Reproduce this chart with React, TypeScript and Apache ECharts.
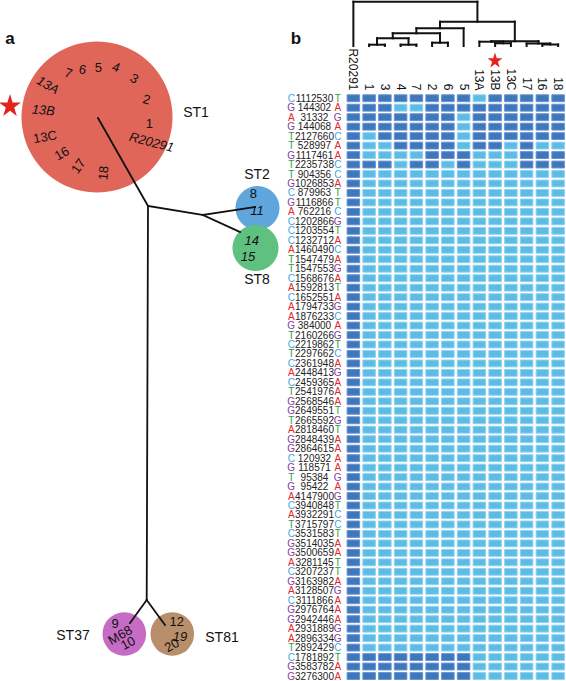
import React, { useEffect, useRef } from "react";
import * as echarts from "echarts";

const FONT = '"Liberation Sans", Arial, Helvetica, sans-serif';

// ---------- panel b data ----------
const columns = ["R20291", "1", "3", "4", "7", "2", "6", "5", "13A", "13B", "13C", "17", "16", "18"];

const snps = [
  "C1112530T", "G144302A", "A31332G", "G144068A", "T2127660C", "T528997A", "G1117461A", "T2235738C",
  "T904356C", "G1026853A", "C879963T", "G1116866T", "A762216C", "C1202866G", "C1203554T", "C1232712A",
  "A1460490C", "T1547479A", "T1547553G", "C1568676A", "A1592813T", "C1652551A", "A1794733G", "A1876233C",
  "G384000A", "T2160266G", "C2219862T", "T2297662C", "C2361948A", "A2448413G", "C2459365A", "T2541976A",
  "G2568546A", "G2649551T", "T2665592G", "A2818460T", "G2848439A", "G2864615A", "C120932A", "G118571A",
  "T95384G", "G95422A", "A4147900G", "C3940848T", "A3932291C", "T3715797C", "C3531583T", "G3514035A",
  "G3500659A", "A3281145T", "C3207237T", "G3163982A", "A3128507G", "C3111866A", "G2976764A", "G2942446A",
  "A2931889G", "A2896334G", "T2892429C", "C1781892T", "G3583782A", "G3276300A",
];

// 1 = reference allele (dark), 0 = variant (light); columns in order of `columns`
const genotypes = [
  "11111111011111",
  "11100111111111",
  "11111110111111",
  "11111110111111",
  "10111110111111",
  "10011110110100",
  "10000111000111",
  "11101101000111",
  ...Array(51).fill("10000000000000"),
  "11111111000000",
  "11111111000000",
  "11111111000000",
];

// dendrogram merges: [childA, childB, height]; leaves are column indices, merges get ids 14, 15, ...
const dendroMerges: [number, number, number][] = [
  [1, 2, 1.3],
  [3, 4, 1.3],
  [5, 6, 3.3],
  [14, 15, 7.7],
  [17, 16, 12.7],
  [18, 7, 17.7],
  [9, 10, 2.7],
  [12, 13, 1.5],
  [11, 21, 2.5],
  [8, 20, 4.3],
  [23, 22, 4.8],
  [19, 24, 24.3],
  [0, 25, 44.3],
];

// ---------- panel a data ----------
const stNames = ["ST1", "ST2", "ST8", "ST37", "ST81"];
const stColors = ["#e0665a", "#5ea6dc", "#5fc07f", "#c66cc5", "#b98f6b"];
const isolateNames = ["13A", "7", "6", "5", "4", "3", "2", "1", "R20291", "18", "17", "16", "13C", "13B",
  "8", "11", "14", "15", "9", "M68", "10", "12", "19", "20"];
const isolateItalic = [1, 0, 0, 0, 1, 0, 0, 0, 1, 0, 0, 0, 0, 1, 0, 1, 1, 1, 0, 0, 0, 0, 1, 0];

// layout (network diagram coordinates in a 566 x 681 layout space)
const stLayout = [[97, 117, 151], [257.5, 208, 44], [255.5, 248, 46], [124.3, 634, 43.5], [172.3, 634, 43.5]];
const stLabelLayout = [[196, 112], [257, 174], [257, 279], [73, 635], [222, 637]];
const treeEdges = [
  [98, 118, 148, 206], [148, 206, 146.7, 600], [148, 206, 203, 215], [203, 215, 255, 207],
  [203, 215, 240, 232], [146.7, 600, 130, 623], [146.7, 600, 165, 625],
];
const isolateLayout = [
  [48, 85, -30], [68.5, 73, -20], [82.7, 69.5, -10], [98.3, 67, 0], [116, 67, -12], [134.3, 78.5, -30],
  [146.7, 99.3, -15], [149.3, 123, 0], [151.7, 142, -15], [103.3, 173, 85], [78.3, 166, 55], [61.7, 153.3, 30],
  [45, 136.7, 10], [43.3, 110, -5],
  [253.3, 193.3, 0], [257, 210, 0], [251.7, 240, 0], [248, 256.7, 0],
  [115, 623, 0], [120, 635, 30], [128, 643, 28], [176.7, 621.7, 0], [180, 636.7, 0], [171.7, 645, 30],
];
const starLayout = [[10, 105, 22], [495, 60, 15]];

const STAR = "path://M50,0 L61.8,35.4 L100,35.4 L69.1,57.3 L80.9,92.7 L50,70.8 L19.1,92.7 L30.9,57.3 L0,35.4 L38.2,35.4 Z";
const baseColors: Record<string, string> = { A: "#e3262b", C: "#41a5de", G: "#8a3c9b", T: "#2e9d48" };

function buildDendro() {
  const pos: [number, number][] = columns.map((_, i) => [i, 0]);
  const segs: number[][] = [];
  dendroMerges.forEach(([a, b, h]) => {
    const pa = pos[a];
    const pb = pos[b];
    segs.push([pa[0], pa[1], pa[0], h]);
    segs.push([pb[0], pb[1], pb[0], h]);
    segs.push([pa[0], h, pb[0], h]);
    pos.push([(pa[0] + pb[0]) / 2, h]);
  });
  return segs;
}

export default function App() {
  const ref = useRef<HTMLDivElement>(null);
  useEffect(() => {
    document.body.style.margin = "0";
    const chart = echarts.init(ref.current!, null, { renderer: "svg" });
    const heat = genotypes.flatMap((g, r) => g.split("").map((v, c) => [c, r, Number(v)]));
    const segRender = (lw: number) => (_p: any, api: any) => {
      const p1 = api.coord([api.value(0), api.value(1)]);
      const p2 = api.coord([api.value(2), api.value(3)]);
      return {
        type: "line",
        shape: { x1: p1[0], y1: p1[1], x2: p2[0], y2: p2[1] },
        style: { stroke: "#111", lineWidth: lw, lineCap: "square" },
      };
    };
    const rich: any = { p: { color: "#222", width: 39, align: "center", fontSize: 10, lineHeight: 9, fontFamily: FONT } };
    Object.keys(baseColors).forEach((k) => {
      rich[k] = { color: baseColors[k], width: 7.5, align: "center", fontSize: 10, lineHeight: 9, fontFamily: FONT };
    });
    chart.setOption({
      animation: false,
      textStyle: { fontFamily: FONT },
      grid: [
        { left: 0, top: 0, width: 566, height: 681 },
        { left: 345.5, top: 93.5, width: 222, height: 588 },
        { left: 345.5, top: 0, width: 222, height: 46 },
      ],
      xAxis: [
        { type: "value", gridIndex: 0, min: 0, max: 566, show: false },
        {
          type: "category", gridIndex: 1, data: columns, position: "top",
          axisLine: { show: false }, axisTick: { show: false },
          axisLabel: { rotate: 90, fontSize: 12, margin: 3, interval: 0, color: "#111", fontFamily: FONT },
        },
        { type: "value", gridIndex: 2, min: -0.5, max: 13.5, show: false },
      ],
      yAxis: [
        { type: "value", gridIndex: 0, min: 0, max: 681, inverse: true, show: false },
        {
          type: "category", gridIndex: 1, data: snps, inverse: true,
          axisLine: { show: false }, axisTick: { show: false },
          axisLabel: {
            interval: 0, margin: 4, fontSize: 10, lineHeight: 9,
            formatter: (v: string) => {
              const r = v[0];
              const a = v[v.length - 1];
              return `{${r}|${r}}{p|${v.slice(1, -1)}}{${a}|${a}}`;
            },
            rich,
          },
        },
        { type: "value", gridIndex: 2, min: 0, max: 46, show: false },
      ],
      series: [
        {
          type: "scatter", xAxisIndex: 0, yAxisIndex: 0, z: 1,
          data: stNames.map((n, i) => ({
            name: n, value: [stLayout[i][0], stLayout[i][1]], symbolSize: stLayout[i][2],
            itemStyle: { color: stColors[i], opacity: 1 },
          })),
          symbol: "circle",
        },
        {
          type: "custom", xAxisIndex: 0, yAxisIndex: 0, z: 3,
          encode: { x: [0, 2], y: [1, 3] },
          renderItem: segRender(1.8),
          data: treeEdges,
        },
        {
          type: "scatter", xAxisIndex: 0, yAxisIndex: 0, z: 4, symbolSize: 0,
          itemStyle: { opacity: 1 },
          label: { show: true, position: "inside", formatter: "{b}", fontSize: 13, color: "#111", fontFamily: FONT },
          data: isolateNames.map((n, i) => ({
            name: n, value: [isolateLayout[i][0], isolateLayout[i][1]],
            label: { rotate: isolateLayout[i][2], fontStyle: isolateItalic[i] ? "italic" : "normal" },
          })),
        },
        {
          type: "scatter", xAxisIndex: 0, yAxisIndex: 0, z: 4, symbolSize: 0,
          itemStyle: { opacity: 1 },
          label: { show: true, position: "inside", formatter: "{b}", fontSize: 14, color: "#111", fontFamily: FONT },
          data: stNames.map((n, i) => ({ name: n, value: stLabelLayout[i] })),
        },
        {
          type: "scatter", xAxisIndex: 0, yAxisIndex: 0, z: 5, symbol: STAR,
          itemStyle: { color: "#e3241d", opacity: 1 },
          data: starLayout.map((s) => ({ value: [s[0], s[1]], symbolSize: s[2] })),
        },
        {
          type: "custom", xAxisIndex: 1, yAxisIndex: 1, z: 2,
          encode: { x: 0, y: 1 },
          renderItem: (_p: any, api: any) => {
            const c = api.coord([api.value(0), api.value(1)]);
            const s = api.size([1, 1]);
            const v = api.value(2);
            return {
              type: "rect",
              shape: { x: c[0] - s[0] / 2 + 1.6, y: c[1] - s[1] / 2 + 1.3, width: s[0] - 3.2, height: s[1] - 2.6 },
              style: { fill: v ? "#3f77bf" : "#5bbce6", stroke: v ? "#6693cf" : "#93d2ef", lineWidth: 1 },
            };
          },
          data: heat,
        },
        {
          type: "custom", xAxisIndex: 2, yAxisIndex: 2, z: 2,
          encode: { x: [0, 2], y: [1, 3] },
          renderItem: segRender(2),
          data: buildDendro(),
        },
      ],
      graphic: [
        { type: "text", x: 10, y: 38, style: { text: "a", fontSize: 17, fontWeight: "bold", fontFamily: FONT, fill: "#111", align: "center", verticalAlign: "middle" } },
        { type: "text", x: 296, y: 38, style: { text: "b", fontSize: 17, fontWeight: "bold", fontFamily: FONT, fill: "#111", align: "center", verticalAlign: "middle" } },
      ],
    });
    return () => chart.dispose();
  }, []);
  return <div ref={ref} style={{ width: 566, height: 681 }} />;
}
